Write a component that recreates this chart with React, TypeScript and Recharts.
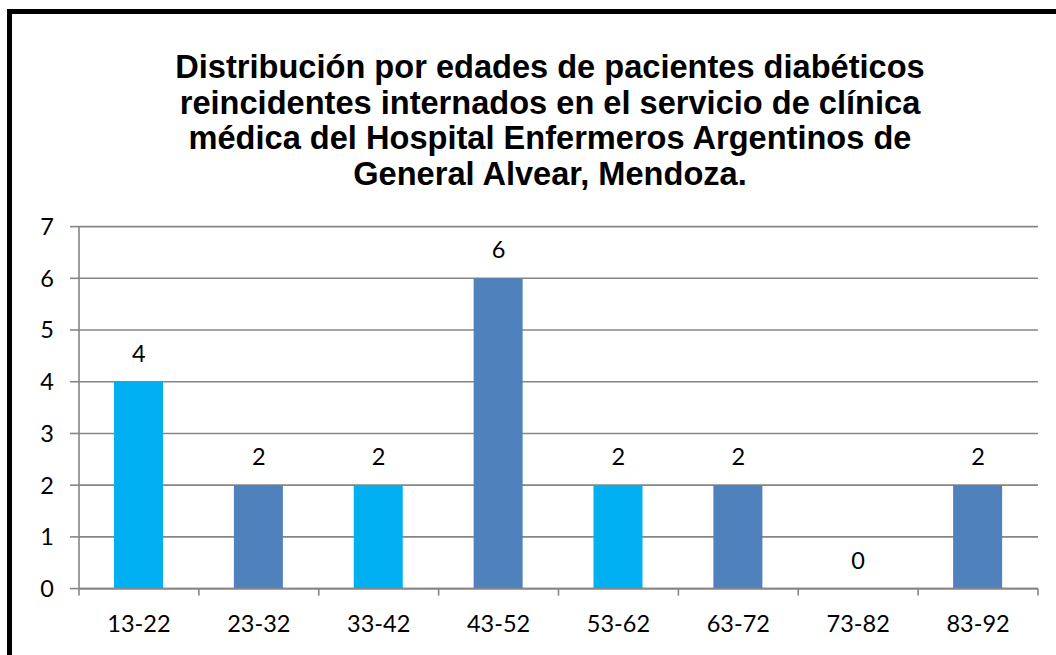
import React from "react";
import { ComposedChart, Bar, Line, XAxis, YAxis, CartesianGrid, Cell, LabelList } from "recharts";

const categories = ["13-22", "23-32", "33-42", "43-52", "53-62", "63-72", "73-82", "83-92"];
const patients = [4, 2, 2, 6, 2, 2, 0, 2];
const barColors = ["#00B0F0", "#4F81BD", "#00B0F0", "#4F81BD", "#00B0F0", "#4F81BD", "#00B0F0", "#4F81BD"];
const yTicks = [0, 1, 2, 3, 4, 5, 6, 7];
const titleLines = [
  "Distribución por edades de pacientes diabéticos",
  "reincidentes internados en el servicio de clínica",
  "médica del Hospital Enfermeros Argentinos de",
  "General Alvear, Mendoza.",
];

const data = categories.map((c, i) => ({ name: c, value: patients[i] }));

const FONT = "Lato, 'Open Sans', sans-serif";
const GRID = "#868686";
const FS = 23.5;
const X_TICK_SIZE = 8;
const X_TICK_MARGIN = 18.7;
const BOUNDARY_TICK = 7;

function CategoryTick(props: any) {
  const { x, y, payload, index, visibleTicksCount } = props;
  const half = payload && typeof payload.offset === "number" ? payload.offset : 0;
  const axisY = y - X_TICK_SIZE - X_TICK_MARGIN;
  const isLast = index === visibleTicksCount - 1;
  return (
    <g>
      <line x1={x - half} x2={x - half} y1={axisY} y2={axisY + BOUNDARY_TICK} stroke={GRID} strokeWidth={1.6} />
      {isLast && (
        <line x1={x + half} x2={x + half} y1={axisY} y2={axisY + BOUNDARY_TICK} stroke={GRID} strokeWidth={1.6} />
      )}
      <text x={x} y={y} dy="0.71em" textAnchor="middle" fill="#000" fontSize={FS} fontFamily={FONT}>
        {payload.value}
      </text>
    </g>
  );
}

export default function App() {
  return (
    <div style={{ position: "absolute", left: 0, top: 0, width: 1056, height: 655, overflow: "hidden", background: "#fff" }}>
      <div
        style={{
          position: "absolute",
          left: 7,
          top: 9,
          width: 2000,
          height: 2000,
          borderLeft: "5px solid #000",
          borderTop: "5px solid #000",
        }}
      />
      <div
        style={{
          position: "absolute",
          left: 0,
          top: 49,
          width: 1100,
          textAlign: "center",
          fontFamily: "'Liberation Sans', Arial, sans-serif",
          fontWeight: "bold",
          fontSize: 32.6,
          lineHeight: "35.7px",
          color: "#000",
        }}
      >
        {titleLines.map((l, i) => (
          <div key={i}>{l}</div>
        ))}
      </div>
      <div style={{ position: "absolute", left: 0, top: 0 }}>
        <ComposedChart width={1056} height={655} data={data} margin={{ top: 226.6, right: 18, bottom: 26.4, left: 0 }}>
          <CartesianGrid vertical={false} stroke={GRID} strokeWidth={1.6} />
          <XAxis
            dataKey="name"
            height={40}
            interval={0}
            axisLine={{ stroke: GRID, strokeWidth: 1.6 }}
            tickLine={false}
            tickSize={X_TICK_SIZE}
            tickMargin={X_TICK_MARGIN}
            tick={<CategoryTick />}
          />
          <YAxis
            width={79}
            domain={[0, 7]}
            ticks={yTicks}
            interval={0}
            axisLine={{ stroke: GRID, strokeWidth: 1.6 }}
            tickLine={{ stroke: GRID, strokeWidth: 1.6 }}
            tickSize={9}
            tickMargin={16}
            tick={{ fill: "#000", fontSize: FS, fontFamily: FONT }}
          />
          <Bar dataKey="value" barSize={49} isAnimationActive={false}>
            {data.map((d, i) => (
              <Cell key={d.name} fill={barColors[i]} />
            ))}
          </Bar>
          <Line dataKey="value" stroke="none" dot={false} activeDot={false} legendType="none" isAnimationActive={false}>
            <LabelList dataKey="value" position="top" offset={20} fill="#000" fontSize={FS} fontFamily={FONT} />
          </Line>
        </ComposedChart>
      </div>
    </div>
  );
}
